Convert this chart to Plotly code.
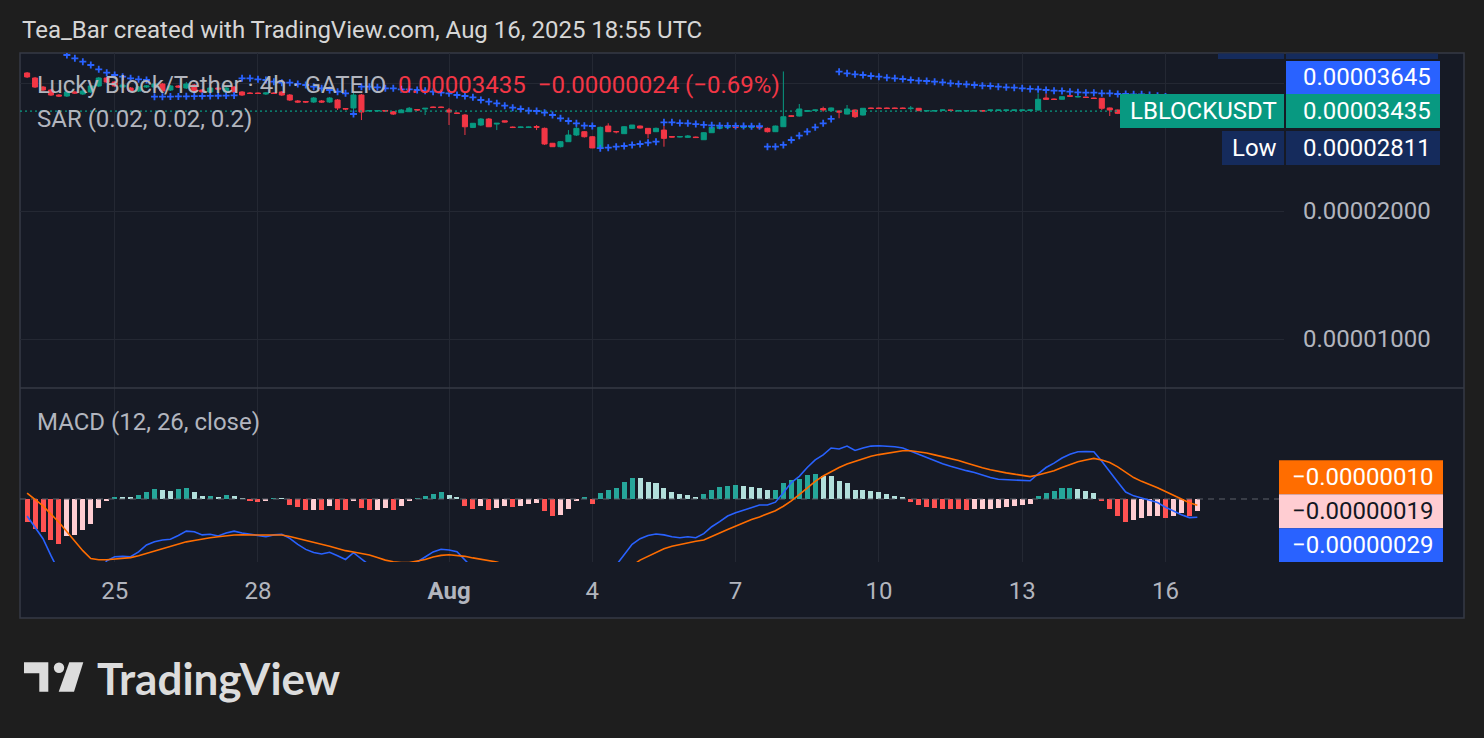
import math
import pandas as pd
import plotly.graph_objects as go

# ---------------- data (prices / indicator values in units of 0.00000001 USDT) ----------------
SCALE = 1e-8
BAR_START = "2025-07-23 04:00"
BAR_FREQ = "4h"

OPEN = [4223, 4110, 3914, 3851, 3748, 3728, 3810, 3769, 3810, 3936,
        4110, 4022, 3914, 3893, 3830, 3914, 3914, 3979, 3851, 3936,
        3893, 3957, 3851, 3810, 3893, 3810, 3914, 3810, 3789, 3789,
        3769, 3789, 3810, 3748, 3629, 3619, 3609, 3629, 3609, 3648,
        3484, 3494, 3748, 3437, 3437, 3446, 3424, 3405, 3424, 3465,
        3475, 3513, 3513, 3456, 3400, 3363, 3145, 3186, 3291, 3203,
        3259, 3151, 3143, 3143, 3160, 3129, 2886, 2833, 2911, 3018,
        3073, 2990, 2814, 3168, 3076, 3040, 3129, 3168, 3129, 3073,
        3100, 2993, 2985, 2980, 2985, 2942, 3056, 3129, 3143, 3151,
        3143, 3143, 3151, 3129, 3073, 3157, 3350, 3345, 3431, 3446,
        3484, 3443, 3437, 3381, 3456, 3363, 3494, 3494, 3494, 3494,
        3494, 3482, 3488, 3437, 3437, 3450, 3456, 3437, 3437, 3437,
        3446, 3448, 3448, 3448, 3448, 3448, 3448, 3456, 3688, 3668,
        3662, 3733, 3708, 3708, 3688, 3682, 3494, 3456, 3394, 3372,
        3418, 3437, 3428, 3400, 3363, 3400, 3440, 3425]
HIGH = [4246, 4133, 3936, 3872, 3769, 3830, 3830, 3851, 3957, 4133,
        4133, 4044, 3979, 3914, 3936, 3957, 4000, 4000, 3957, 3957,
        4022, 3979, 3872, 3914, 3914, 3914, 3936, 3830, 3810, 3800,
        3810, 3810, 3830, 3769, 3648, 3629, 3708, 3648, 3708, 3668,
        3494, 3789, 3769, 3456, 3456, 3456, 3437, 3475, 3513, 3475,
        3494, 3522, 3522, 3494, 3409, 3381, 3220, 3309, 3309, 3220,
        3264, 3160, 3160, 3160, 3186, 3143, 2891, 2922, 3100, 3210,
        3084, 3002, 3160, 3216, 3084, 3168, 3186, 3177, 3134, 3143,
        3186, 3002, 3002, 3018, 2993, 3067, 3150, 3160, 3160, 3160,
        3160, 3160, 3160, 3143, 3177, 4258, 3363, 3570, 3456, 3465,
        3519, 3503, 3446, 3551, 3465, 3494, 3503, 3503, 3503, 3503,
        3503, 3532, 3494, 3450, 3450, 3462, 3462, 3450, 3450, 3450,
        3450, 3462, 3462, 3462, 3462, 3462, 3462, 3783, 3783, 3678,
        3718, 3738, 3728, 3713, 3693, 3688, 3503, 3465, 3400, 3437,
        3456, 3446, 3437, 3409, 3409, 3446, 3475, 3465]
LOW = [4110, 3893, 3830, 3728, 3708, 3708, 3769, 3748, 3789, 3914,
       4000, 3914, 3893, 3810, 3810, 3893, 3893, 3810, 3830, 3893,
       3872, 3800, 3789, 3789, 3851, 3789, 3789, 3728, 3769, 3769,
       3748, 3769, 3728, 3629, 3590, 3590, 3590, 3590, 3590, 3456,
       3456, 3400, 3273, 3418, 3418, 3418, 3363, 3400, 3418, 3437,
       3363, 3494, 3494, 3186, 3381, 3018, 3134, 3168, 3151, 3100,
       3229, 3134, 3134, 3134, 3100, 2860, 2829, 2822, 2906, 3002,
       2977, 2811, 2811, 3067, 3045, 3034, 3117, 3125, 2964, 3067,
       2833, 2977, 2977, 2969, 2969, 2938, 3051, 3117, 3134, 3134,
       3134, 3134, 3130, 3060, 3067, 3151, 3327, 3336, 3418, 3437,
       3424, 3437, 3305, 3372, 3309, 3354, 3475, 3475, 3475, 3475,
       3475, 3456, 3437, 3430, 3430, 3446, 3440, 3430, 3430, 3430,
       3430, 3440, 3440, 3440, 3440, 3440, 3440, 3446, 3658, 3650,
       3658, 3718, 3700, 3690, 3670, 3456, 3345, 3381, 3345, 3363,
       3400, 3418, 3381, 3345, 3354, 3390, 3430, 3409]
CLOSE = [4133, 3914, 3851, 3748, 3728, 3810, 3789, 3830, 3936, 4110,
         4022, 3936, 3957, 3830, 3914, 3936, 3979, 3830, 3936, 3914,
         3979, 3820, 3810, 3893, 3872, 3893, 3810, 3748, 3779, 3779,
         3789, 3779, 3748, 3648, 3609, 3609, 3688, 3609, 3688, 3494,
         3475, 3748, 3418, 3446, 3446, 3437, 3381, 3456, 3488, 3456,
         3488, 3503, 3503, 3418, 3394, 3156, 3216, 3291, 3156, 3216,
         3238, 3143, 3151, 3151, 3146, 2875, 2833, 2911, 3018, 3129,
         2990, 2814, 3146, 3073, 3071, 3157, 3186, 3134, 3040, 3129,
         2964, 2985, 2993, 3002, 2977, 3056, 3146, 3155, 3151, 3143,
         3151, 3151, 3140, 3073, 3168, 3332, 3340, 3475, 3443, 3456,
         3456, 3494, 3418, 3475, 3332, 3488, 3484, 3484, 3484, 3484,
         3484, 3490, 3443, 3444, 3444, 3456, 3448, 3444, 3444, 3444,
         3437, 3456, 3456, 3456, 3456, 3456, 3456, 3662, 3662, 3658,
         3714, 3724, 3718, 3698, 3678, 3488, 3456, 3394, 3372, 3418,
         3437, 3428, 3400, 3363, 3400, 3440, 3459, 3435]
SAR = [5700, 5500, 5300, 5100, 4960, 4655, 4573, 4489, 4410, 4308,
       4230, 4177, 4139, 4103, 4081, 4066, 3714, 3714, 3716, 3720,
       3722, 3725, 3728, 3730, 3733, 3736, 3740, 4103, 4103, 4081,
       4066, 4028, 4007, 4007, 3979, 3957, 3921, 3886, 3851, 3816,
       3783, 3382, 3921, 3921, 3908, 3887, 3887, 3866, 3866, 3851,
       3837, 3816, 3795, 3783, 3748, 3728, 3702, 3648, 3615, 3584,
       3537, 3499, 3475, 3443, 3437, 3406, 3364, 3304, 3256, 3216,
       3175, 3169, 2811, 2818, 2833, 2844, 2860, 2875, 2896, 2911,
       3232, 3232, 3220, 3215, 3203, 3190, 3180, 3175, 3172, 3170,
       3168, 3166, 3165, 2833, 2833, 2860, 2938, 3007, 3073, 3147,
       3216, 3292, 4253, 4216, 4193, 4177, 4155, 4139, 4117, 4103,
       4088, 4066, 4050, 4044, 4028, 4015, 3994, 3979, 3972, 3957,
       3942, 3936, 3921, 3908, 3900, 3887, 3873, 3866, 3851, 3837,
       3831, 3816, 3804, 3795, 3795, 3783, 3783, 3769, 3769, 3763,
       3763, 3748, 3735, 3720, 3700, 3683, 3665, 3645]
MACD = [-27, -45, -63, -90, -115, -130, -145, -150, -140, -120,
        -98, -91.6, -91, -91.6, -84, -73, -67.8, -65, -64, -58,
        -51, -52, -57, -56, -58.7, -54, -51, -54, -56, -58,
        -59.8, -57, -56, -62.4, -72, -80, -85, -87.3, -84.6, -90,
        -96, -85.2, -95, -105, -112, -118, -120, -118, -110, -100,
        -92, -84, -79.8, -81, -83.6, -97, -110, -118, -125, -132,
        -138, -145, -150, -153, -155, -162, -172, -175, -170, -160,
        -152, -155, -140, -125, -105, -88, -72, -63, -58, -55.5,
        -57, -60, -61.4, -60, -61.5, -55, -44, -36, -27, -22,
        -17.5, -13, -9.5, -9.5, -5, 10, 26, 36, 50, 62,
        70, 81, 79.4, 84, 77, 81, 84, 84.6, 84, 83,
        81, 76, 70, 65, 60, 56, 52, 48, 45, 42,
        38, 34, 31.3, 30.5, 30, 29.5, 29, 40, 50, 57,
        65, 71, 75, 75.5, 75, 60, 43, 27, 11, 5,
        1.5, -2, -5.5, -13, -19, -25, -29.5, -29]
SIGNAL = [9.5, -0.5, -11, -24, -37, -52, -67, -82, -94.5, -96.5,
          -96.5, -95.5, -94, -93, -90, -86.5, -83, -79, -75, -71.5,
          -68, -66, -63.5, -61.5, -60, -58.5, -57.1, -57, -57, -57,
          -57.1, -57.2, -57.1, -59.5, -62.5, -65, -68, -71.5, -75, -78.5,
          -82, -84, -86, -89, -93, -97, -99.5, -101, -101, -99,
          -96, -92, -89.5, -88.5, -89.5, -91, -93.5, -96, -98, -100,
          -104, -108, -112, -116, -120, -124, -128, -132, -135, -136,
          -135, -134, -131, -127, -120, -113, -106, -97, -91, -84,
          -79, -75, -72, -69.5, -67, -65.1, -60, -54, -48.5, -43,
          -38, -32.5, -28.5, -24, -18.5, -11.5, -3, 7, 18, 28,
          36.5, 43.5, 50, 55.5, 60, 64.5, 68, 70.5, 72.5, 74.5,
          76.5, 76.5, 75.2, 73, 70, 67.1, 64, 61, 57, 53,
          49.5, 46.5, 43.5, 41.5, 39.5, 37.5, 35.5, 38, 41.5, 45,
          50, 55, 59, 62, 64.5, 62, 58, 51, 42, 34,
          28, 23.5, 18, 12, 6, -1, -6, -10]
HIST = [-37, -47.6, -52.9, -64.5, -70.9, -58.2, -56.6, -48.7, -39.1, -14.3,
        -3.7, 2.6, 2.4, 1.6, 6.9, 10.6, 15.9, 13.8, 12.2, 15.9,
        17.5, 10.6, 4.8, 5.3, 2.6, 6.9, 4.2, 1.1, -3.7, -4.0,
        -2.6, 0.5, 0.3, -9.0, -12.7, -18.0, -16.9, -17.5, -11.6, -16.9,
        -18.0, -3.7, -14.3, -18.0, -16.9, -14.3, -16.9, -11.6, -3.7, 0.5,
        4.2, 7.9, 11.1, 6.9, 3.2, -11.6, -15.3, -11.6, -16.9, -14.3,
        -11.6, -13.2, -11.6, -7.9, -6.3, -19.6, -27.5, -25.9, -15.9, -3.7,
        1.6, -7.4, 9.5, 14.8, 17.5, 27.0, 33.3, 33.0, 27.0, 25.4,
        17.5, 11.1, 8.5, 6.9, 3.2, 7.9, 14.8, 19.0, 21.2, 21.5,
        21.2, 19.0, 17.5, 13.8, 14.8, 25.4, 30.7, 32.3, 38.6, 40.2,
        37.0, 36.5, 28.0, 25.4, 14.8, 14.5, 13.2, 11.1, 7.9, 5.3,
        1.6, -5.3, -9.0, -12.7, -14.3, -15.9, -16.2, -16.5, -16.9, -16.6,
        -16.3, -15.9, -14.3, -12.7, -10.6, -9.0, -7.4, 4.2, 9.5, 12.2,
        17.5, 17.8, 15.9, 12.2, 9.5, -3.7, -15.9, -27.5, -37.0, -32.8,
        -30.2, -27.5, -26.5, -30.2, -26.5, -22.2, -26.5, -19.4]

X_TICKS = ["2025-07-25", "2025-07-28", "2025-08-01", "2025-08-04",
           "2025-08-07", "2025-08-10", "2025-08-13", "2025-08-16"]
X_TICK_TEXT = ["25", "28", "<b>Aug</b>", "4", "7", "10", "13", "16"]
PRICE_TICKS = [0.00001, 0.00002, 0.00004]
PRICE_TICK_TEXT = ["0.00001000", "0.00002000", ""]   # the 0.00004000 label is hidden by the price labels
PRICE_RANGE_LOG = [-5.11524, -4.32738]
MACD_RANGE = [-100e-8, 176.2e-8]
X_RANGE = ["2025-07-23 00:26", "2025-08-18 11:33"]

TITLE = "Tea_Bar created with TradingView.com, Aug 16, 2025 18:55 UTC"
SYMBOL = "Lucky Block/Tether · 4h · GATEIO"
TICKER = "LBLOCKUSDT"

# ---------------- styles ----------------
PAGE_BG = "#1e1e1e"
PANEL_BG = "#161a25"
GRID = "#242833"
BORDER = "#363a45"
TXT = "#b2b5be"
GREEN = "#089981"
RED = "#f23645"
BLUE = "#2962ff"
ORANGE = "#ff6d00"
NAVY = "#152b5c"
H_UP, H_UP_FALL, H_DN, H_DN_RISE = "#26a69a", "#b2dfdb", "#ff5252", "#ffcdd2"
FONT = "Roboto, sans-serif"
FS = 24

W, H = 1484, 738
PL, PR, PT, PB = 20, 1284, 53, 562   # plot area in pixels
SPLIT = 388                          # pane separator


def px(x):
    return (x - PL) / (PR - PL)


def py(y):
    return (PB - y) / (PB - PT)


def fmt(v):
    return f"{v * SCALE:.8f}".replace("-", "\u2212")


times = pd.date_range(BAR_START, periods=len(CLOSE), freq=BAR_FREQ)
o = [v * SCALE for v in OPEN]
h = [v * SCALE for v in HIGH]
l = [v * SCALE for v in LOW]
c = [v * SCALE for v in CLOSE]
sar = [v * SCALE for v in SAR]
macd = [v * SCALE for v in MACD]
sig = [v * SCALE for v in SIGNAL]
hist = [v * SCALE for v in HIST]

hcolors = []
for i, v in enumerate(HIST):
    prev = HIST[i - 1] if i > 0 else None
    if v >= 0:
        hcolors.append(H_UP if (prev is None or prev < v) else H_UP_FALL)
    else:
        hcolors.append(H_DN_RISE if (prev is not None and prev < v) else H_DN)

fig = go.Figure()

# last-price dotted line
fig.add_trace(go.Scatter(x=X_RANGE, y=[c[-1], c[-1]], mode="lines", yaxis="y",
                         line=dict(color=GREEN, width=1.3, dash="2px,3px"), hoverinfo="skip"))
fig.add_trace(go.Candlestick(
    x=times, open=o, high=h, low=l, close=c, yaxis="y",
    increasing=dict(line=dict(color=GREEN, width=1), fillcolor=GREEN),
    decreasing=dict(line=dict(color=RED, width=1), fillcolor=RED),
    whiskerwidth=0, hoverinfo="skip"))
fig.add_trace(go.Scatter(x=times, y=sar, mode="markers", yaxis="y",
                         marker=dict(symbol="cross-thin", size=5, color=BLUE,
                                     line=dict(color=BLUE, width=1.8)), hoverinfo="skip"))

# MACD pane
fig.add_trace(go.Scatter(x=X_RANGE, y=[0, 0], mode="lines", yaxis="y2",
                         line=dict(color="#5d606b", width=1.2, dash="6px,5px"), hoverinfo="skip"))
fig.add_trace(go.Bar(x=times, y=hist, yaxis="y2", marker=dict(color=hcolors, line=dict(width=0)),
                     width=0.63 * 4 * 3600 * 1000, hoverinfo="skip"))
fig.add_trace(go.Scatter(x=times, y=macd, mode="lines", yaxis="y2",
                         line=dict(color=BLUE, width=1.6), hoverinfo="skip"))
fig.add_trace(go.Scatter(x=times, y=sig, mode="lines", yaxis="y2",
                         line=dict(color=ORANGE, width=1.6), hoverinfo="skip"))

dom_split = (PB - SPLIT) / (PB - PT)
fig.update_layout(
    width=W, height=H, showlegend=False,
    margin=dict(l=PL, r=W - PR, t=PT, b=H - PB, pad=0),
    paper_bgcolor=PAGE_BG, plot_bgcolor=PANEL_BG,
    font=dict(family=FONT, color=TXT, size=FS),
    boxgap=0.25, boxgroupgap=0.15, bargap=0,
    xaxis=dict(type="date", range=X_RANGE, anchor="y2", rangeslider=dict(visible=False),
               tickvals=X_TICKS, ticktext=X_TICK_TEXT, showgrid=True, gridcolor=GRID, gridwidth=1,
               zeroline=False, showline=False, ticks="", ticklabelstandoff=12,
               tickfont=dict(family=FONT, size=FS, color=TXT), fixedrange=True),
    yaxis=dict(type="log", domain=[dom_split, 1], anchor="x", range=PRICE_RANGE_LOG,
               side="right", tickvals=PRICE_TICKS, ticktext=PRICE_TICK_TEXT, showgrid=True,
               gridcolor=GRID, zeroline=False, showline=False, ticks="", ticklabelstandoff=18,
               tickfont=dict(family=FONT, size=FS, color=TXT), fixedrange=True),
    yaxis2=dict(domain=[0, dom_split], anchor="x", range=MACD_RANGE,
                showgrid=False, zeroline=False, showline=False, showticklabels=False,
                ticks="", fixedrange=True),
)

shapes = []
# panel
shapes.append(dict(type="rect", xref="paper", yref="paper", x0=px(20), x1=px(1464), y0=py(618), y1=py(53),
                   fillcolor=PANEL_BG, line=dict(color=BORDER, width=1.5), layer="below"))
# pane separator
shapes.append(dict(type="line", xref="paper", yref="paper", x0=px(20), x1=px(1464), y0=py(SPLIT), y1=py(SPLIT),
                   line=dict(color=BORDER, width=1.5), layer="above"))
# "High" label sliver at the top edge
shapes.append(dict(type="rect", xref="paper", yref="paper", x0=px(1218), x1=px(1284), y0=py(59), y1=py(53.5),
                   fillcolor=NAVY, line=dict(width=0)))
shapes.append(dict(type="rect", xref="paper", yref="paper", x0=px(1286), x1=px(1438), y0=py(59), y1=py(53.5),
                   fillcolor=NAVY, line=dict(width=0)))


def label_box(x0, x1, ref, anchor, y0, y1, color):
    return dict(type="rect", xref="paper", yref=ref, x0=px(x0), x1=px(x1), ysizemode="pixel",
                yanchor=anchor, y0=y0, y1=y1, fillcolor=color, line=dict(width=0), layer="above")


# MACD labels (linear axis)
shapes.append(label_box(1279, 1443, "y2", hist[-1], 17, 51, ORANGE))
shapes.append(label_box(1279, 1443, "y2", hist[-1], -17, 17, H_DN_RISE))
shapes.append(label_box(1279, 1443, "y2", hist[-1], -51, -17, BLUE))


# TradingView logo icon
def P(x, y):
    return f"{px(x):.5f},{py(y):.5f}"


LOGO = "#dcdcdc"
shapes.append(dict(type="path", xref="paper", yref="paper",
                   path=f"M{P(24,662.3)} L{P(48.3,662.3)} L{P(48.3,691.7)} L{P(39.3,691.7)} L{P(39.3,673.3)} L{P(24,673.3)} Z",
                   fillcolor=LOGO, line=dict(width=0)))
shapes.append(dict(type="circle", xref="paper", yref="paper", x0=px(53.8), x1=px(64.2), y0=py(673), y1=py(662.5),
                   fillcolor=LOGO, line=dict(width=0)))
shapes.append(dict(type="path", xref="paper", yref="paper",
                   path=f"M{P(69.3,662.3)} L{P(83.3,662.3)} L{P(74,691.7)} L{P(58.7,691.7)} Z",
                   fillcolor=LOGO, line=dict(width=0)))
fig.update_layout(shapes=shapes)

ann = []


def bg(x0, x1, y, color, yref="y", yshift=0, height=34):
    # coloured price-scale label background (annotation box anchored at a data value)
    ann.append(dict(x=px(x0), y=y, xref="paper", yref=yref, text="&nbsp;", showarrow=False,
                    xanchor="left", yanchor="middle", yshift=yshift, width=x1 - x0, height=height,
                    bgcolor=color, borderpad=0, borderwidth=0, font=dict(size=10)))


def text(x, y, s, color=TXT, size=FS, xanchor="left", xref="paper", yref="paper", yshift=0, family=FONT):
    ann.append(dict(x=x, y=y, xref=xref, yref=yref, text=s, showarrow=False, xanchor=xanchor,
                    yanchor="middle", yshift=yshift, font=dict(family=family, size=size, color=color),
                    borderpad=0))


close_log = math.log10(c[-1])   # annotations on log axes use log10 positions
low_val = min(l)
low_log = math.log10(low_val)

bg(1286, 1440, close_log, BLUE, yshift=34, height=33)
bg(1120, 1284, close_log, GREEN)
bg(1286, 1440, close_log, GREEN)
bg(1222, 1284, low_log, NAVY)
bg(1286, 1440, low_log, NAVY)

text(px(21), py(30), TITLE, color="#d6d6d6", size=FS)
chg = CLOSE[-1] - CLOSE[-2]
pct = chg / CLOSE[-2] * 100
legend = (f"{SYMBOL}&nbsp;&nbsp;<span style='color:{RED}'>{fmt(CLOSE[-1])}&nbsp;&nbsp;{fmt(chg)} "
          f"({pct:.2f}%)</span>").replace("-", "\u2212")
text(px(36), py(85), legend)
text(px(36), py(119), "SAR (0.02, 0.02, 0.2)")
text(px(36), py(422), "MACD (12, 26, close)")

# price scale label texts
text(px(1432), close_log, fmt(SAR[-1]), color="white", xanchor="right", yref="y", yshift=34)
text(px(1203), close_log, TICKER, color="white", xanchor="center", yref="y")
text(px(1432), close_log, fmt(CLOSE[-1]), color="white", xanchor="right", yref="y")
text(px(1254), low_log, "Low", color="white", xanchor="center", yref="y")
text(px(1432), low_log, fmt(low_val / SCALE), color="white", xanchor="right", yref="y")
text(px(1434), hist[-1], fmt(SIGNAL[-1]), color="white", xanchor="right", yref="y2", yshift=34)
text(px(1434), hist[-1], fmt(HIST[-1]), color="#131722", xanchor="right", yref="y2")
text(px(1434), hist[-1], fmt(MACD[-1]), color="white", xanchor="right", yref="y2", yshift=-34)

# logo text
text(px(96), py(678), "<b>TradingView</b>", color=LOGO, size=44, family="Lato, sans-serif")

fig.update_layout(annotations=ann)
fig.write_html("out.html")
